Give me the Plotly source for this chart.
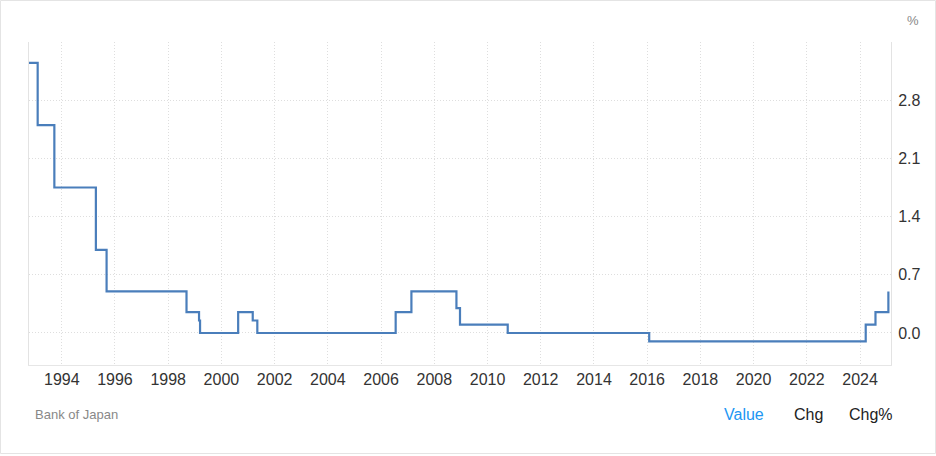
import plotly.graph_objects as go

dates = ["1992-07-27", "1993-02-04", "1993-09-21", "1995-04-14", "1995-09-08",
         "1998-09-09", "1999-02-28", "1999-03-14", "2000-08-18", "2001-03-06",
         "2001-05-08", "2006-07-20", "2007-02-21", "2008-10-31", "2008-12-19",
         "2010-10-05", "2016-01-29", "2024-03-19", "2024-07-31", "2025-01-24"]
rates = [3.25, 2.5, 1.75, 1.0, 0.5,
         0.25, 0.15, 0.0, 0.25, 0.15,
         0.0, 0.25, 0.5, 0.3, 0.1,
         0.0, -0.1, 0.1, 0.25, 0.5]

y_tickvals = [0.0, 0.7, 1.4, 2.1, 2.8, 3.5]
y_ticktext = ["0.0", "0.7", "1.4", "2.1", "2.8", ""]

W, H = 936, 456
L, R, T, B = 29, 45, 42, 91
pw, ph = W - L - R, H - T - B

def px(x):
    return (x - L) / pw

def py(y):
    return (H - B - y) / ph

fig = go.Figure()
fig.add_trace(go.Scatter(
    x=dates, y=rates, mode="lines", line_shape="hv",
    line=dict(color="#4a7ebb", width=2.2), hoverinfo="x+y", showlegend=False))

font = "Liberation Sans, Arial, Helvetica, sans-serif"

def note(text, x, y, size, color, anchor="center"):
    return dict(text=text, xref="paper", yref="paper", x=px(x), y=py(y),
                xanchor=anchor, yanchor="middle", showarrow=False,
                font=dict(size=size, color=color))

fig.update_layout(
    width=W, height=H,
    margin=dict(l=L, r=R, t=T, b=B),
    paper_bgcolor="white", plot_bgcolor="white",
    font=dict(family=font, size=16, color="#333333"),
    xaxis=dict(
        type="date", range=["1992-10-08", "2025-03-01"],
        tick0="1994-01-01", dtick="M24", tickformat="%Y",
        showgrid=True, gridcolor="#dedede", griddash="1px,2px", gridwidth=1,
        showline=True, linecolor="#e6e6e6", linewidth=1,
        ticks="", tickfont=dict(size=16, color="#333333"), zeroline=False,
    ),
    yaxis=dict(
        side="right", range=[-0.385, 3.5],
        tickvals=y_tickvals, ticktext=y_ticktext,
        showgrid=True, gridcolor="#dedede", griddash="1px,2px", gridwidth=1,
        showline=True, mirror=True, linecolor="#e3e3e3", linewidth=1,
        ticks="", ticklabelstandoff=3, tickfont=dict(size=16, color="#333333"),
        zeroline=False,
    ),
    shapes=[dict(type="rect", xref="paper", yref="paper",
                 x0=px(0.5), x1=px(935.5), y0=py(0.5), y1=py(453.5),
                 line=dict(color="#e4e4e4", width=1), layer="below")],
    annotations=[
        note("%", 913, 20, 13, "#888888"),
        note("Bank of Japan", 33, 414, 13, "#888888", "left"),
        note("Value", 744, 414, 16, "#2196f3"),
        note("Chg", 808, 414, 16, "#222222"),
        note("Chg%", 871, 414, 16, "#222222"),
    ],
)

fig.write_html("out.html", config={"displayModeBar": False},
               post_script="document.body.style.margin='0';document.body.style.overflow='hidden';")
